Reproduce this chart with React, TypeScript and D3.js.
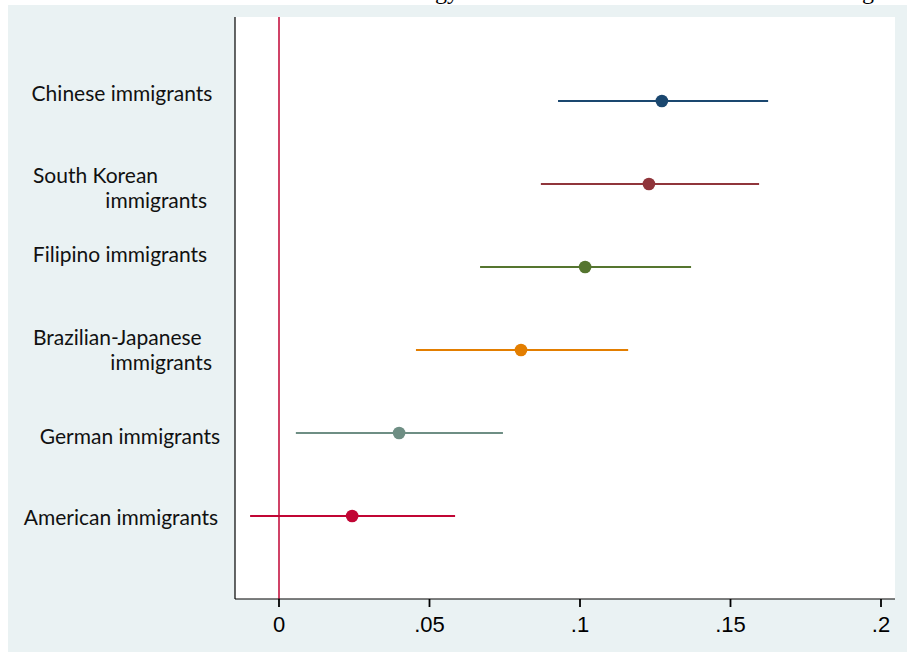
import React from "react";
import * as d3 from "d3";

const categories = [
  "Chinese immigrants",
  "South Korean immigrants",
  "Filipino immigrants",
  "Brazilian-Japanese immigrants",
  "German immigrants",
  "American immigrants",
];
const labelLines = [
  ["Chinese immigrants"],
  ["South Korean", "immigrants"],
  ["Filipino immigrants"],
  ["Brazilian-Japanese", "immigrants"],
  ["German immigrants"],
  ["American immigrants"],
];
const estimates = [0.1272, 0.1229, 0.1017, 0.0804, 0.0399, 0.0243];
const lower = [0.0927, 0.087, 0.0668, 0.0455, 0.0056, -0.0096];
const upper = [0.1625, 0.1595, 0.1369, 0.116, 0.0744, 0.0585];
const colors = ["#1a476f", "#90353b", "#55752f", "#e37e00", "#6e8e84", "#c10534"];
const xTicks = [0, 0.05, 0.1, 0.15, 0.2];
const xTickLabels = ["0", ".05", ".1", ".15", ".2"];
const titleParts = ["Technology", "Working"];

const W = 907;
const H = 652;
const plot = { left: 235, right: 895, top: 17, bottom: 599 };

// label layout: [x, anchor, baselineOffset] per line
const labelLayout: [number, string, number][][] = [
  [[122, "middle", 0]],
  [[33, "start", -1], [207, "end", 24]],
  [[120, "middle", -5]],
  [[33, "start", -5], [212, "end", 20]],
  [[130, "middle", 11]],
  [[121, "middle", 9]],
];

export default function App() {
  const x = d3
    .scaleLinear()
    .domain([(plot.left - 279) / 3010, (plot.right - 279) / 3010])
    .range([plot.left, plot.right]);
  const y = d3.scalePoint<string>().domain(categories).range([101, 516]);

  return (
    <svg
      width={W}
      height={H}
      style={{ position: "absolute", left: 0, top: 0 }}
    >
      <rect x={0} y={0} width={W} height={H} fill="#ffffff" />
      <rect x={8} y={5} width={W - 8} height={H - 5} fill="#eaf2f3" />
      <text
        x={459}
        y={-1}
        textAnchor="end"
        fontFamily="Liberation Serif, serif"
        fontSize={24}
        fill="#000"
      >
        {titleParts[0]}
      </text>
      <text
        x={874}
        y={-1}
        textAnchor="end"
        fontFamily="Liberation Serif, serif"
        fontSize={24}
        fill="#000"
      >
        {titleParts[1]}
      </text>
      <rect
        x={plot.left}
        y={plot.top}
        width={plot.right - plot.left}
        height={plot.bottom - plot.top}
        fill="#ffffff"
      />
      <line
        x1={x(0)}
        x2={x(0)}
        y1={plot.top}
        y2={plot.bottom}
        stroke="#c10534"
        strokeWidth={1.5}
      />
      <line
        x1={plot.left}
        x2={plot.left}
        y1={plot.top}
        y2={plot.bottom}
        stroke="#000"
        strokeWidth={1.2}
      />
      <line
        x1={plot.left}
        x2={plot.right}
        y1={plot.bottom}
        y2={plot.bottom}
        stroke="#000"
        strokeWidth={1.2}
      />
      {xTicks.map((t, i) => (
        <g key={t}>
          <line
            x1={x(t)}
            x2={x(t)}
            y1={plot.bottom}
            y2={plot.bottom + 8}
            stroke="#000"
            strokeWidth={1.8}
          />
          <text
            x={x(t)}
            y={632}
            textAnchor="middle"
            fontFamily="Liberation Sans, Arial, sans-serif"
            fontSize={22}
            fill="#000"
          >
            {xTickLabels[i]}
          </text>
        </g>
      ))}
      {categories.map((c, i) => (
        <g key={c}>
          <line
            x1={x(lower[i])}
            x2={x(upper[i])}
            y1={y(c)}
            y2={y(c)}
            stroke={colors[i]}
            strokeWidth={1.8}
          />
          <circle cx={x(estimates[i])} cy={y(c)} r={6.3} fill={colors[i]} />
          {labelLines[i].map((ln, j) => (
            <text
              key={j}
              x={labelLayout[i][j][0]}
              y={(y(c) as number) + labelLayout[i][j][2]}
              textAnchor={labelLayout[i][j][1] as any}
              fontFamily="Lato, sans-serif"
              fontSize={21}
              fill="#111"
            >
              {ln}
            </text>
          ))}
        </g>
      ))}
    </svg>
  );
}
